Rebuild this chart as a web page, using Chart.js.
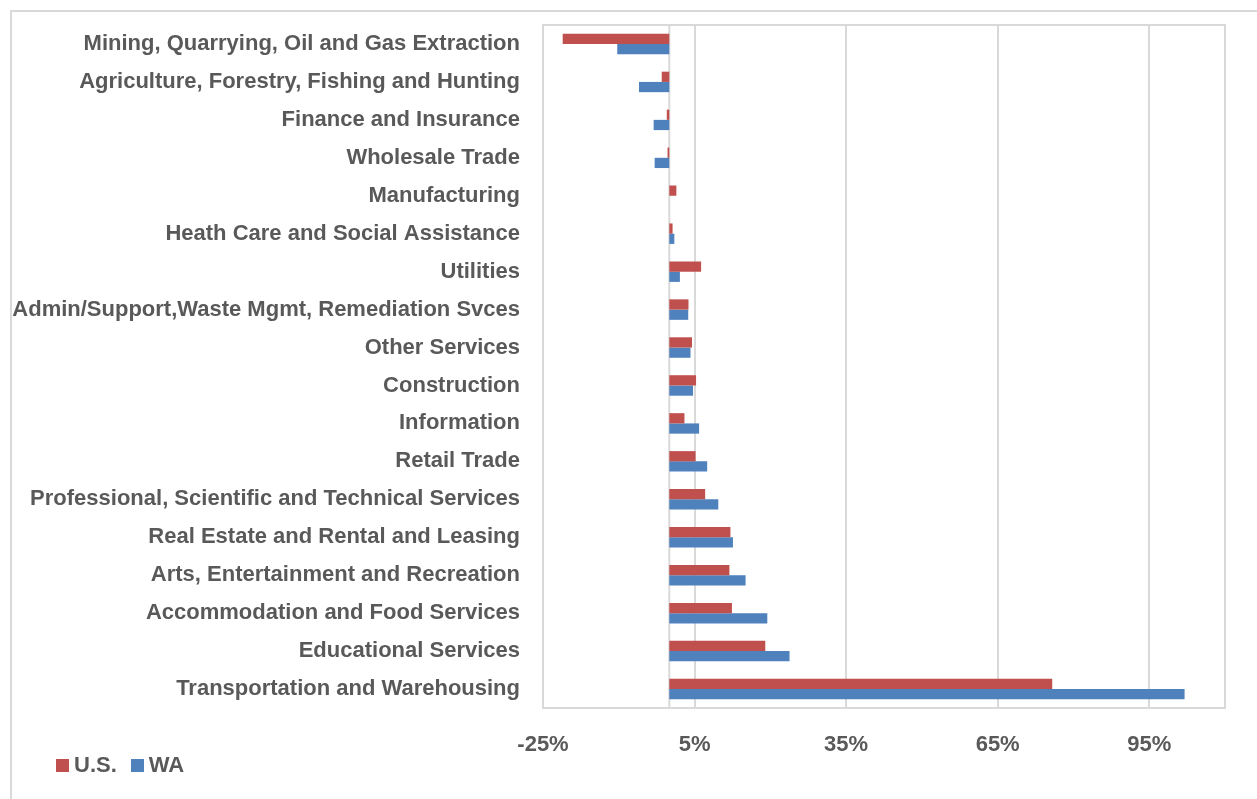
<!DOCTYPE html>
<html>
<head>
<meta charset="utf-8">
<script src="https://cdn.jsdelivr.net/npm/chart.js@4/dist/chart.umd.min.js"></script>
<style>
  html, body { margin: 0; padding: 0; background: #fff; }
  #wrap { position: relative; width: 1257px; height: 799px; }
  #frame { position: absolute; left: 10px; top: 10px; right: 0; bottom: 0;
           border-left: 2px solid #d9d9d9; border-top: 2px solid #d9d9d9; }
  #legend { position: absolute; left: 56px; top: 752px; font: bold 22px "Liberation Sans Narrow", "Liberation Sans", Arial, sans-serif;
            color: #595959; display: flex; align-items: center; }
  #legend span.box { display: inline-block; width: 13px; height: 13px; margin-right: 5px; }
  #legend span.item { display: inline-flex; align-items: center; margin-right: 14px; }
</style>
</head>
<body>
<div id="wrap">
  <div id="frame"></div>
  <canvas id="industryChart" width="1257" height="799"></canvas>
  <div id="legend"></div>
</div>
<script>
// Industries, top to bottom
const industries = [
    'Mining, Quarrying, Oil and Gas Extraction',
    'Agriculture, Forestry, Fishing and Hunting',
    'Finance and Insurance',
    'Wholesale Trade',
    'Manufacturing',
    'Heath Care and Social Assistance',
    'Utilities',
    'Admin/Support,Waste Mgmt, Remediation Svces',
    'Other Services',
    'Construction',
    'Information',
    'Retail Trade',
    'Professional, Scientific and Technical Services',
    'Real Estate and Rental and Leasing',
    'Arts, Entertainment and Recreation',
    'Accommodation and Food Services',
    'Educational Services',
    'Transportation and Warehousing'
];

// percent change
const usValues = [-21.1, -1.5, -0.5, -0.35, 1.4, 0.65, 6.3, 3.8, 4.5, 5.3, 3.0, 5.2, 7.1, 12.1, 11.9, 12.4, 19.0, 75.8];
const waValues = [-10.3, -6.0, -3.1, -2.9, 0, 1.0, 2.1, 3.75, 4.2, 4.7, 5.9, 7.5, 9.7, 12.6, 15.1, 19.4, 23.8, 102.0];

// x axis
const xMin = -25;
const xMax = 110;
const xTicks = [-25, 5, 35, 65, 95];

const usColor = '#C0504D';
const waColor = '#4F81BD';
const gridColor = '#d9d9d9';
const textColor = '#595959';
const fontFamily = '"Liberation Sans Narrow", "Liberation Sans", Arial, sans-serif';

// plot frame + zero line, like the Excel original
const framePlugin = {
    id: 'framePlugin',
    beforeDatasetsDraw(chart) {
        const { ctx, chartArea, scales } = chart;
        ctx.save();
        ctx.strokeStyle = gridColor;
        ctx.lineWidth = 2;
        ctx.strokeRect(chartArea.left, chartArea.top, chartArea.right - chartArea.left, chartArea.bottom - chartArea.top);
        const x0 = scales.x.getPixelForValue(0);
        ctx.beginPath();
        ctx.moveTo(x0, chartArea.top);
        ctx.lineTo(x0, chartArea.bottom);
        ctx.stroke();
        ctx.restore();
    }
};

const ctx = document.getElementById('industryChart').getContext('2d');
const chart = new Chart(ctx, {
    type: 'bar',
    data: {
        labels: industries,
        datasets: [
            { label: 'U.S.', data: usValues, backgroundColor: usColor, categoryPercentage: 0.54, barPercentage: 1.0 },
            { label: 'WA', data: waValues, backgroundColor: waColor, categoryPercentage: 0.54, barPercentage: 1.0 }
        ]
    },
    options: {
        indexAxis: 'y',
        responsive: false,
        animation: false,
        layout: { padding: { left: 0, right: 32, top: 25, bottom: 0 } },
        scales: {
            x: {
                min: xMin,
                max: xMax,
                afterFit(scale) { scale.height = 91; },
                afterBuildTicks(scale) { scale.ticks = xTicks.map(v => ({ value: v })); },
                grid: { color: gridColor, lineWidth: 2, drawTicks: false },
                border: { display: false },
                ticks: {
                    padding: 24,
                    color: textColor,
                    font: { family: fontFamily, size: 22, weight: 'bold' },
                    callback: (v) => v + '%'
                }
            },
            y: {
                afterFit(scale) {
                    scale.width = 543;
                    scale.paddingTop = 0;
                    scale.paddingBottom = 0;
                },
                grid: { display: false, drawTicks: false },
                border: { display: false },
                ticks: {
                    padding: 23,
                    autoSkip: false,
                    color: textColor,
                    font: { family: fontFamily, size: 22, weight: 'bold' }
                }
            }
        },
        plugins: {
            legend: { display: false },
            tooltip: { enabled: false }
        }
    },
    plugins: [framePlugin]
});

// html legend
const legendEl = document.getElementById('legend');
chart.data.datasets.forEach(ds => {
    const item = document.createElement('span');
    item.className = 'item';
    item.innerHTML = '<span class="box" style="background:' + ds.backgroundColor + '"></span>' + ds.label;
    legendEl.appendChild(item);
});
</script>
</body>
</html>
